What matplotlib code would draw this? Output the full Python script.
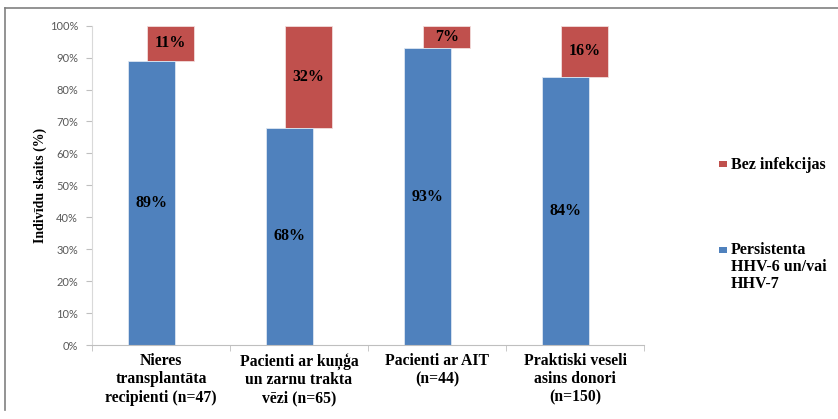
import matplotlib
matplotlib.use("Agg")
import matplotlib.pyplot as plt
from matplotlib.patches import Rectangle
from matplotlib.lines import Line2D
import numpy as np

categories = ["Nieres\ntransplantāta\nrecipienti (n=47)",
              "Pacienti ar kuņģa\nun zarnu trakta\nvēzi (n=65)",
              "Pacienti ar AIT\n(n=44)",
              "Praktiski veseli\nasins donori\n(n=150)"]
persistent = [89, 68, 93, 84]
no_infection = [11, 32, 7, 16]
series_names = ["Bez infekcijas", "Persistenta\nHHV-6 un/vai\nHHV-7"]
yticks = [0, 10, 20, 30, 40, 50, 60, 70, 80, 90, 100]

blue = "#4f81bd"
red = "#c0504d"
serif = ["Liberation Serif", "DejaVu Serif"]
sans = ["Lato", "Liberation Sans", "DejaVu Sans"]

fig = plt.figure(figsize=(8.38, 4.19), dpi=100)
ax = fig.add_axes([92/838, 1-345/419, (644-92)/838, (345-25.7)/419])

x = np.arange(len(categories))
w = 0.345
off = 0.07
ax.bar(x - off, persistent, width=w, color=blue, edgecolor="#dce6f2", linewidth=0.6, zorder=2)
ax.bar(x + off, no_infection, width=w, bottom=persistent, color=red, edgecolor="#f2dcdb", linewidth=0.6, zorder=1)

for i in range(len(categories)):
    ax.text(x[i] - off, persistent[i] / 2, f"{persistent[i]}%", ha="center", va="center",
            fontsize=11.5, fontweight="bold", family=serif, color="black", zorder=3)
    ax.text(x[i] + off, persistent[i] + no_infection[i] / 2, f"{no_infection[i]}%", ha="center", va="center",
            fontsize=11.5, fontweight="bold", family=serif, color="black", zorder=3)

ax.set_xlim(-0.5, len(categories) - 0.5)
ax.set_ylim(0, 100)
ax.set_yticks(yticks)
ax.set_yticklabels([f"{v}%" for v in yticks], family=sans, fontsize=8, color="#595959")
ax.set_xticks(x)
ax.set_xticklabels(categories, family=serif, fontsize=11.3, fontweight="bold", linespacing=1.18)
ax.tick_params(axis="x", length=0, pad=6)
ax.set_xticks(np.arange(-0.5, len(categories)), minor=True)
ax.tick_params(axis="x", which="minor", length=4, color="#bfbfbf", direction="out")
ax.tick_params(axis="y", length=4, color="#bfbfbf", pad=6)

for s in ["top", "right"]:
    ax.spines[s].set_visible(False)
ax.spines["left"].set_color("#d9d9d9")
ax.spines["bottom"].set_color("#bfbfbf")

ax.set_ylabel("Indivīdu skaits (%)", family=serif, fontsize=10, fontweight="bold", labelpad=2)

# legend (manual)
fig.patches.append(Rectangle((719/838, 1-167.5/419), 8/838, 6/419, transform=fig.transFigure,
                             facecolor=red, edgecolor="none"))
fig.text(731/838, 1-165/419, series_names[0], family=serif, fontsize=11.5, fontweight="bold",
         ha="left", va="center")
fig.patches.append(Rectangle((719/838, 1-253/419), 8/838, 6/419, transform=fig.transFigure,
                             facecolor=blue, edgecolor="none"))
fig.text(731/838, 1-242/419, series_names[1], family=serif, fontsize=11.5, fontweight="bold",
         ha="left", va="top", linespacing=1.1)

# outer frame lines (top and left)
fig.add_artist(Line2D([5/838, 1], [1-8/419, 1-8/419], transform=fig.transFigure, color="#808080", lw=1.2))
fig.add_artist(Line2D([5/838, 5/838], [1-8/419, 1-410/419], transform=fig.transFigure, color="#808080", lw=1.2))

fig.savefig("out.png", dpi=100)
